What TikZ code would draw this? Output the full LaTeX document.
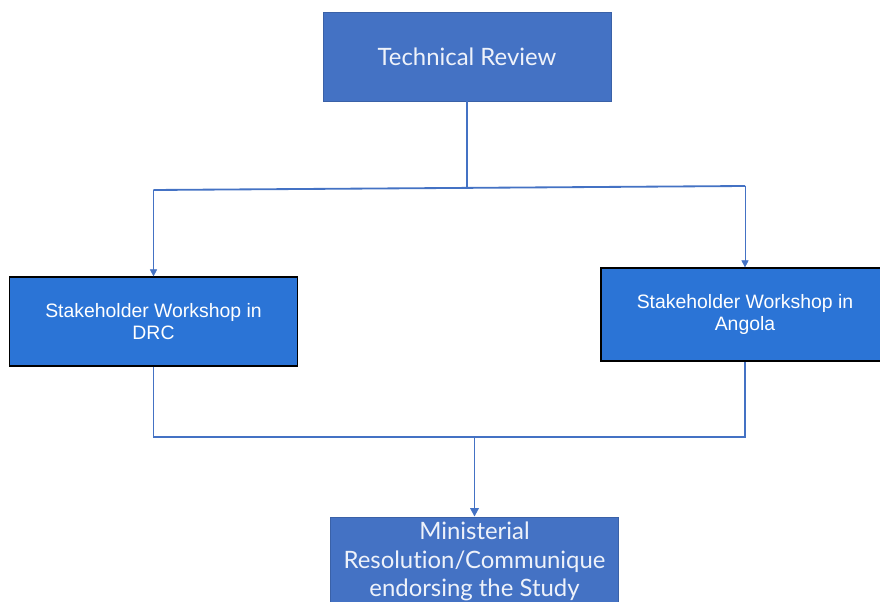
\documentclass[tikz,border=0pt]{standalone}
\usepackage{fontspec}
\setmainfont{Liberation Sans}
\newfontfamily\aptosfont[Ligatures=NoCommon]{Lato}
\usetikzlibrary{arrows.meta}
\definecolor{reviewblue}{RGB}{68,114,196}
\definecolor{workblue}{RGB}{43,116,214}
\definecolor{paletext}{RGB}{238,242,250}
\tikzset{
  stagebox/.style={draw=reviewblue!85!black, line width=0.6pt, fill=reviewblue,
    minimum width=7.2cm, minimum height=2.225cm, align=center,
    text=paletext, font=\aptosfont\fontsize{17}{20.3}\selectfont},
  workbox/.style={draw=black, line width=0.8pt, fill=workblue,
    minimum width=7.2cm, minimum height=2.3cm, align=center,
    text=white, font=\fontsize{13.8}{16}\selectfont},
  flow/.style={draw=reviewblue, line width=1.3pt},
  thinflow/.style={draw=reviewblue, line width=0.5pt, -{Triangle[length=5pt,width=5pt]}},
}
\begin{document}
\begin{tikzpicture}[x=0.025cm, y=-0.025cm]
			%%%%% START %%%%%
			\clip (0,0) rectangle (880,602);
			\fill[white] (0,0) rectangle (880,602);
			
			\node[stagebox] (review) at (467,56.5) {Technical Review};
			\node[workbox, minimum height=2.225cm] (drc) at (153.5,321.5) {Stakeholder Workshop in\\DRC};
			\node[workbox, minimum height=2.325cm] (angola) at (745,314.5) {Stakeholder Workshop in\\Angola};
			\node[stagebox, minimum height=2.225cm] (minister) at (474.5,561.5) {Ministerial\\Resolution/Communique\\endorsing the Study};
			
			% split below the review
			\coordinate (splitmid) at (467,188);
			\coordinate (splitleft) at (153.5,190);
			\coordinate (splitright) at (745,186);
			\draw[flow] (review.south) -- (splitmid);
			\draw[flow] (splitleft) -- (splitright);
			\draw[thinflow] (splitleft) -- (drc.north);
			\draw[thinflow] (splitright) -- (angola.north);
			
			% join above the resolution
			\coordinate (joinleft) at (153.5,437);
			\coordinate (joinright) at (745,437);
			\coordinate (joinmid) at (474.5,437);
			\draw[flow] (drc.south) -- (joinleft) -- (joinright) -- (angola.south);
			\draw[flow, -{Triangle[length=6pt,width=6pt]}] (joinmid) -- (minister.north);
			%%%%% END %%%%%
\end{tikzpicture}
\end{document}
